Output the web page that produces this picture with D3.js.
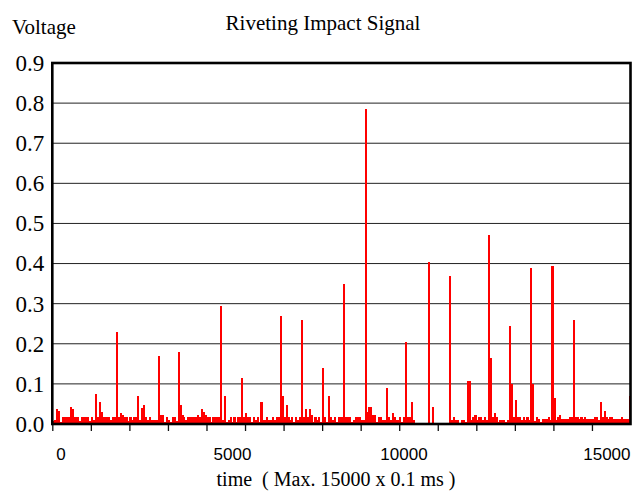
<!DOCTYPE html>
<html>
<head>
<meta charset="utf-8">
<script src="https://cdn.jsdelivr.net/npm/d3@7"></script>
<style>
  body { margin: 0; background: #fff; }
  svg { display: block; }
</style>
</head>
<body>
<script>
// sampled signal, one value every 50 time units (x 0.1 ms)
var sampleStep = 50;
var voltage = [
  0.008,0.010,0.037,0.033,0.004,0.017,0.017,0.017,0.017,0.042,
  0.037,0.017,0.017,0.017,0.008,0.017,0.017,0.017,0.017,0.008,
  0.017,0.010,0.076,0.017,0.055,0.031,0.017,0.017,0.017,0.017,
  0.010,0.017,0.017,0.230,0.017,0.027,0.022,0.017,0.017,0.008,
  0.017,0.010,0.017,0.017,0.071,0.010,0.040,0.048,0.017,0.010,
  0.017,0.010,0.010,0.010,0.010,0.170,0.022,0.022,0.006,0.017,
  0.010,0.006,0.017,0.017,0.008,0.180,0.048,0.022,0.017,0.010,
  0.017,0.017,0.017,0.017,0.017,0.022,0.017,0.037,0.029,0.022,
  0.017,0.017,0.006,0.017,0.017,0.017,0.017,0.295,0.010,0.070,
  0.006,0.010,0.017,0.006,0.017,0.006,0.017,0.017,0.115,0.017,
  0.027,0.017,0.017,0.006,0.017,0.010,0.017,0.006,0.055,0.010,
  0.010,0.017,0.010,0.010,0.017,0.010,0.017,0.017,0.270,0.071,
  0.017,0.048,0.017,0.010,0.017,0.006,0.017,0.010,0.017,0.260,
  0.017,0.037,0.017,0.037,0.022,0.006,0.017,0.010,0.017,0.006,
  0.140,0.017,0.006,0.071,0.017,0.010,0.017,0.006,0.017,0.017,
  0.017,0.350,0.017,0.017,0.017,0.006,0.010,0.017,0.017,0.017,
  0.010,0.010,0.785,0.030,0.042,0.042,0.022,0.022,0.006,0.017,
  0.017,0.010,0.010,0.090,0.017,0.010,0.027,0.017,0.010,0.010,
  0.017,0.006,0.017,0.205,0.017,0.017,0.055,0.010,0,0,
  0,0,0,0,0,0.405,0,0.042,0,0,
  0,0,0,0,0,0,0.370,0.010,0.017,0.010,
  0.010,0,0.010,0.010,0.004,0.107,0.107,0.010,0.017,0.022,
  0.010,0.017,0.017,0.010,0.017,0.010,0.470,0.165,0.017,0.027,
  0.017,0.006,0.010,0.010,0.010,0.006,0.010,0.245,0.100,0.017,
  0.060,0.017,0.017,0.010,0.017,0.010,0.017,0.010,0.390,0.100,
  0.008,0.017,0.012,0.006,0.012,0.012,0.012,0.017,0.010,0.395,
  0.065,0.010,0.017,0.022,0.012,0.012,0.012,0.012,0.017,0.017,
  0.260,0.017,0.017,0.012,0.017,0.012,0.017,0.012,0.012,0.012,
  0.012,0.017,0.017,0.010,0.055,0.017,0.032,0.017,0.012,0.017,
  0.017,0.012,0.012,0.012,0.012,0.017,0.012,0.012,0.012,0.070
];
var yTicks = [0,0.1,0.2,0.3,0.4,0.5,0.6,0.7,0.8,0.9];
var xLabels = [0, 5000, 10000, 15000];

var width = 643, height = 491;
var plotL = 52.3, plotR = 630.5, plotT = 63, plotB = 424;

var svg = d3.select("body").append("svg").attr("width", width).attr("height", height);

var x = d3.scaleLinear().domain([0, 15000]).range([plotL, plotR]);
var y = d3.scaleLinear().domain([0, 0.9]).range([plotB, plotT]);
// tick labels on the original sit apart from the tick marks
var xLab = d3.scaleLinear().domain([0, 10000]).range([61, 404]);

// gridlines
svg.append("g")
  .selectAll("line")
  .data(yTicks.slice(1, -1))
  .enter().append("line")
    .attr("x1", plotL).attr("x2", plotR)
    .attr("y1", function(d){ return y(d); })
    .attr("y2", function(d){ return y(d); })
    .attr("stroke", "#222")
    .attr("stroke-width", 1);

// bars
var bw = x(sampleStep) - x(0);
svg.append("g")
  .selectAll("rect")
  .data(voltage)
  .enter().append("rect")
    .attr("x", function(d, i){ return x(i * sampleStep); })
    .attr("y", function(d){ return y(d); })
    .attr("width", bw + 0.2)
    .attr("height", function(d){ return y(0) - y(d); })
    .attr("fill", "#ff0000")
    .attr("shape-rendering", "crispEdges");

// x tick marks
var xAxis = svg.append("g")
  .attr("transform", "translate(0," + plotB + ")")
  .call(d3.axisBottom(x).tickValues(d3.range(0, 15000, 1000)).tickSize(7).tickFormat(""));
xAxis.select(".domain").remove();
xAxis.selectAll(".tick line").attr("stroke", "#111").attr("stroke-width", 1.3);

// frame
svg.append("rect")
  .attr("x", plotL).attr("y", plotT)
  .attr("width", plotR - plotL).attr("height", plotB - plotT)
  .attr("fill", "none")
  .attr("stroke", "#000")
  .attr("stroke-width", 2.6);

// y labels
var yAxis = svg.append("g")
  .attr("transform", "translate(" + plotL + ",0)")
  .call(d3.axisLeft(y).tickValues(yTicks).tickSize(0).tickPadding(8).tickFormat(d3.format(".1f")));
yAxis.select(".domain").remove();
yAxis.selectAll("text")
  .attr("font-family", "'Liberation Serif', 'Times New Roman', serif")
  .attr("font-size", 23)
  .attr("fill", "#000");

// x labels
svg.append("g")
  .selectAll("text")
  .data(xLabels)
  .enter().append("text")
    .attr("x", function(d, i){ return i == xLabels.length - 1 ? plotR : xLab(d); })
    .attr("y", 460)
    .attr("text-anchor", function(d, i){ return i == xLabels.length - 1 ? "end" : "middle"; })
    .attr("font-family", "'Liberation Sans', Arial, sans-serif")
    .attr("font-size", 17)
    .text(function(d){ return d; });

// titles
svg.append("text")
  .attr("x", 323).attr("y", 30)
  .attr("text-anchor", "middle")
  .attr("font-family", "'Liberation Serif', 'Times New Roman', serif")
  .attr("font-size", 21)
  .text("Riveting Impact Signal");

svg.append("text")
  .attr("x", 12).attr("y", 34)
  .attr("font-family", "'Liberation Serif', 'Times New Roman', serif")
  .attr("font-size", 21)
  .text("Voltage");

svg.append("text")
  .attr("x", 336).attr("y", 486)
  .attr("text-anchor", "middle")
  .attr("font-family", "'Liberation Serif', 'Times New Roman', serif")
  .attr("font-size", 20)
  .text("time\u00a0\u00a0( Max. 15000 x 0.1 ms )");
</script>
</body>
</html>
